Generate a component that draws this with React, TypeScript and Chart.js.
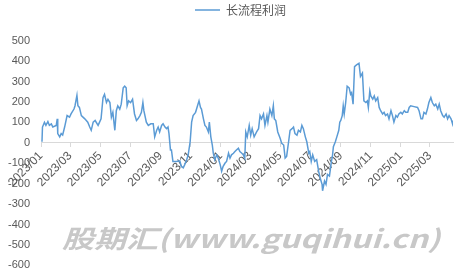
import React, { useEffect, useRef } from "react";
import { Chart, registerables } from "chart.js";

Chart.register(...registerables);

const seriesName = "长流程利润";

const dates: string[] = [
  "2023-01-03","2023-01-04","2023-01-08","2023-01-11","2023-01-15","2023-01-18","2023-01-22","2023-01-25","2023-02-01","2023-02-03",
  "2023-02-04","2023-02-08","2023-02-11","2023-02-14","2023-02-18","2023-02-23","2023-02-28","2023-03-03","2023-03-09","2023-03-11",
  "2023-03-15","2023-03-17","2023-03-20","2023-03-24","2023-03-31","2023-04-06","2023-04-10","2023-04-13","2023-04-17","2023-04-21",
  "2023-04-27","2023-04-30","2023-05-03","2023-05-07","2023-05-10","2023-05-14","2023-05-17","2023-05-21","2023-05-24","2023-05-27",
  "2023-05-31","2023-06-03","2023-06-06","2023-06-10","2023-06-13","2023-06-17","2023-06-20","2023-06-23","2023-06-25","2023-06-28",
  "2023-07-02","2023-07-06","2023-07-10","2023-07-14","2023-07-17","2023-07-21","2023-07-24","2023-07-27","2023-07-29","2023-08-03",
  "2023-08-07","2023-08-12","2023-08-17","2023-08-20","2023-08-24","2023-08-27","2023-08-30","2023-09-03","2023-09-06","2023-09-10",
  "2023-09-13","2023-09-16","2023-09-18","2023-09-21","2023-09-23","2023-09-26","2023-10-03","2023-10-10","2023-10-13","2023-10-17",
  "2023-10-20","2023-10-24","2023-10-27","2023-10-31","2023-11-03","2023-11-06","2023-11-11","2023-11-15","2023-11-18","2023-11-21",
  "2023-11-23","2023-11-27","2023-11-30","2023-12-03","2023-12-07","2023-12-09","2023-12-12","2023-12-15","2023-12-17","2023-12-20",
  "2023-12-24","2023-12-27","2023-12-31","2024-01-03","2024-01-06","2024-01-10","2024-01-13","2024-01-17","2024-01-20","2024-01-23",
  "2024-01-27","2024-01-30","2024-02-02","2024-02-06","2024-02-09","2024-02-13","2024-02-16","2024-02-19","2024-02-21","2024-02-24",
  "2024-02-28","2024-03-02","2024-03-05","2024-03-09","2024-03-14","2024-03-18","2024-03-21","2024-03-24","2024-03-28","2024-03-31",
  "2024-04-04","2024-04-06","2024-04-10","2024-04-14","2024-04-17","2024-04-19","2024-04-22","2024-04-26","2024-05-01","2024-05-04",
  "2024-05-08","2024-05-11","2024-05-14","2024-05-18","2024-05-21","2024-05-25","2024-05-28","2024-05-31","2024-06-04","2024-06-07",
  "2024-06-11","2024-06-14","2024-06-17","2024-06-21","2024-06-24","2024-06-28","2024-06-30","2024-07-03","2024-07-06","2024-07-10",
  "2024-07-14","2024-07-18","2024-07-21","2024-07-25","2024-07-26","2024-07-30","2024-08-02","2024-08-05","2024-08-09","2024-08-13",
  "2024-08-15","2024-08-17","2024-08-21","2024-08-24","2024-08-28","2024-08-30","2024-09-01","2024-09-04","2024-09-06","2024-09-08",
  "2024-09-11","2024-09-14","2024-09-18","2024-09-21","2024-09-23","2024-09-26","2024-09-29","2024-10-03","2024-10-08","2024-10-11",
  "2024-10-15","2024-10-18","2024-10-22","2024-10-25","2024-10-27","2024-10-30","2024-11-01","2024-11-05","2024-11-08","2024-11-11",
  "2024-11-15","2024-11-18","2024-11-21","2024-11-25","2024-11-28","2024-12-01","2024-12-05","2024-12-08","2024-12-12","2024-12-15",
  "2024-12-18","2024-12-22","2024-12-25","2024-12-28","2025-01-01","2025-01-04","2025-01-08","2025-01-11","2025-01-15","2025-01-18",
  "2025-01-21","2025-01-28","2025-02-04","2025-02-07","2025-02-11","2025-02-14","2025-02-17","2025-02-21","2025-02-24","2025-02-27",
  "2025-03-03","2025-03-06","2025-03-10","2025-03-13","2025-03-17","2025-03-20","2025-03-23","2025-03-27","2025-03-30","2025-04-03",
  "2025-04-06","2025-04-09","2025-04-13","2025-04-16","2025-04-17"
];

const profit: number[] = [
  5,77,100,85,104,85,92,77,85,117,
  45,29,45,38,77,133,125,141,165,180,
  232,181,173,133,117,101,77,61,101,109,
  85,101,117,221,237,197,213,197,125,149,
  61,157,181,165,189,269,277,269,181,205,
  197,213,141,109,117,133,149,197,157,101,
  85,93,93,29,61,77,53,85,93,77,
  69,77,45,-35,-35,-91,-91,-88,-115,-123,
  -107,-83,-59,5,101,133,149,181,205,173,
  165,117,85,77,53,101,29,-11,-51,-83,
  -59,-75,-107,-139,-115,-99,-91,-51,-75,-59,
  -51,-43,-35,-27,-43,-51,-59,-75,53,29,
  85,37,69,29,53,69,133,117,141,85,
  133,101,165,133,181,117,109,53,21,-3,
  -11,-75,-67,5,61,69,77,45,37,61,
  53,85,69,29,5,-51,-43,-91,-59,-91,
  -83,-139,-171,-203,-235,-187,-203,-155,-163,-91,
  -67,-19,5,29,61,101,109,133,181,141,
  197,277,269,237,245,189,373,381,389,325,
  341,205,197,205,173,253,229,213,229,205,
  221,173,157,141,149,133,141,117,157,133,
  101,133,125,141,149,141,157,149,149,173,
  181,177,173,157,117,117,149,141,165,197,
  221,197,181,189,165,189,157,133,125,141,
  117,133,117,93,109
];

const tickDates: string[] = [
  "2023-01-01","2023-03-01","2023-05-01","2023-07-01","2023-09-01","2023-11-01",
  "2024-01-01","2024-03-01","2024-05-01","2024-07-01","2024-09-01","2024-11-01",
  "2025-01-01","2025-03-01"
];
const tickLabels: string[] = [
  "2023/01","2023/03","2023/05","2023/07","2023/09","2023/11",
  "2024/01","2024/03","2024/05","2024/07","2024/09","2024/11",
  "2025/01","2025/03"
];

const yMin = -600;
const yMax = 500;
const yStep = 100;

const watermark = "股期汇(www.guqihui.cn)";

const BASE = Date.UTC(2023, 0, 1);
const toDay = (s: string) => {
  const [y, m, d] = s.split("-").map(Number);
  return Math.round((Date.UTC(y, m - 1, d) - BASE) / 86400000);
};

export default function App() {
  const ref = useRef<HTMLCanvasElement | null>(null);

  useEffect(() => {
    if (!ref.current) return;
    const points = dates.map((d, i) => ({ x: toDay(d), y: profit[i] }));
    const tickVals = tickDates.map(toDay);
    const labelMap = new Map<number, string>();
    tickVals.forEach((v, i) => labelMap.set(v, tickLabels[i]));

    const watermarkPlugin = {
      id: "watermark",
      beforeDraw(chart: any) {
        const lg = chart.legend;
        if (lg) {
          lg.left = 22;
          lg.right = 459;
        }
      },
      afterDraw(chart: any) {
        const ctx = chart.ctx as CanvasRenderingContext2D;
        ctx.save();
        ctx.font = "italic bold 25px 'Noto Sans CJK SC', 'DejaVu Sans', sans-serif";
        ctx.fillStyle = "#c8c8c8";
        ctx.textBaseline = "alphabetic";
        const w = ctx.measureText(watermark).width;
        const target = 378;
        ctx.translate(62, 248);
        ctx.scale(target / w, 1);
        ctx.fillText(watermark, 0, 0);
        ctx.restore();
      },
    };

    const chart = new Chart(ref.current, {
      type: "line",
      data: {
        datasets: [
          {
            label: seriesName,
            data: points,
            borderColor: "#5b9bd5",
            backgroundColor: "#5b9bd5",
            borderWidth: 1.5,
            pointRadius: 0,
            tension: 0,
            xAxisID: "x",
            yAxisID: "y",
          },
        ],
      },
      options: {
        animation: false,
        responsive: false,
        layout: { padding: { left: 0, right: 6, top: 0, bottom: 0 } },
        plugins: {
          legend: {
            position: "top",
            labels: {
              usePointStyle: true,
              pointStyle: "line",
              pointStyleWidth: 25,
              boxHeight: 12,
              padding: 4,
              color: "#595959",
              font: { size: 12, family: "'Noto Sans CJK SC', sans-serif" },
            },
          },
          tooltip: { enabled: false },
        },
        scales: {
          x: {
            type: "linear",
            position: { y: 0 } as any,
            min: 0,
            max: toDay(dates[dates.length - 1]),
            afterBuildTicks: (scale: any) => {
              scale.ticks = tickVals.map((v) => ({ value: v }));
            },
            ticks: {
              autoSkip: false,
              minRotation: 45,
              maxRotation: 45,
              color: "#595959",
              padding: 2,
              font: { size: 12, family: "'Liberation Sans', sans-serif" },
              callback: (v: any) => labelMap.get(Number(v)) ?? "",
            },
            grid: {
              display: true,
              drawOnChartArea: false,
              drawTicks: true,
              tickLength: 4,
              color: "#d9d9d9",
            },
            border: { display: true, color: "#d9d9d9", width: 1 },
          },
          xTopSpacer: {
            type: "linear",
            position: "top",
            display: true,
            min: 0,
            max: 1,
            afterFit: (scale: any) => {
              scale.height = 14.6;
            },
            ticks: { display: false },
            grid: { display: false, drawTicks: false },
            border: { display: false },
          },
          y: {
            type: "linear",
            min: yMin,
            max: yMax,
            afterFit: (scale: any) => {
              scale.width = 41;
            },
            ticks: {
              stepSize: yStep,
              color: "#595959",
              padding: 0,
              font: { size: 11, family: "'Liberation Sans', sans-serif" },
            },
            grid: { display: false, drawTicks: true, tickLength: 11 },
            border: { display: false },
          },
        },
      },
      plugins: [watermarkPlugin],
    });
    return () => chart.destroy();
  }, []);

  return (
    <div style={{ position: "absolute", left: 0, top: 0, width: 459, height: 272 }}>
      <canvas ref={ref} width={459} height={272} />
    </div>
  );
}
